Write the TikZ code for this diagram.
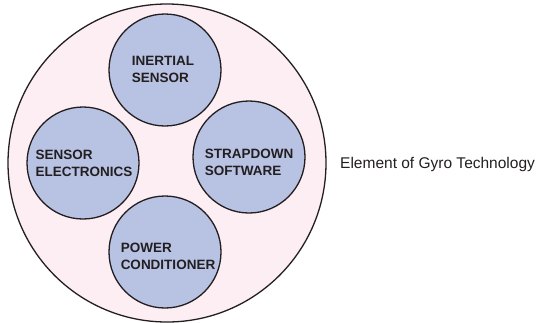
\documentclass[tikz,border=0pt]{standalone}
\usepackage{fontspec}
\setmainfont{Liberation Sans}
\definecolor{shell}{HTML}{FCEEF3}
\definecolor{part}{HTML}{B8C2E3}
\definecolor{rim}{HTML}{231F20}
\tikzset{
	outer/.style={circle, draw=rim, fill=shell, line width=1.3pt, minimum size=318pt, inner sep=0},
	part/.style={circle, draw=rim, fill=part, line width=1.3pt, minimum size=112pt, inner sep=0},
	partname/.style={align=left, inner sep=0, font=\fontsize{13.5}{17}\selectfont\bfseries, text=rim}
}
\begin{document}
\begin{tikzpicture}[x=1pt, y=-1pt]
	\useasboundingbox (0,0) rectangle (543,322);
	\node[outer] (gyro) at (167,163) {};
	\node[part] (inertial) at (165,70) {};
	\node[part] (electronics) at (83,163) {};
	\node[part] (strapdown) at (249,157) {};
	\node[part] (power) at (165,252) {};
	% texts inside the parts
	\node[partname] (inertialname) at ([shift={(-2,-1)}]inertial.center) {INERTIAL\\SENSOR};
	\node[partname] (electronicsname) at ([shift={(1,0)}]electronics.center) {SENSOR\\ELECTRONICS};
	\node[partname] (strapdownname) at ([shift={(0,5)}]strapdown.center) {STRAPDOWN\\SOFTWARE};
	\node[partname] (powername) at ([shift={(3,4)}]power.center) {POWER\\CONDITIONER};
	\node[anchor=west, inner sep=0, font=\fontsize{15.5}{18}\selectfont, text=rim] (label) at (340,164) {Element of Gyro Technology};
\end{tikzpicture}
\end{document}
